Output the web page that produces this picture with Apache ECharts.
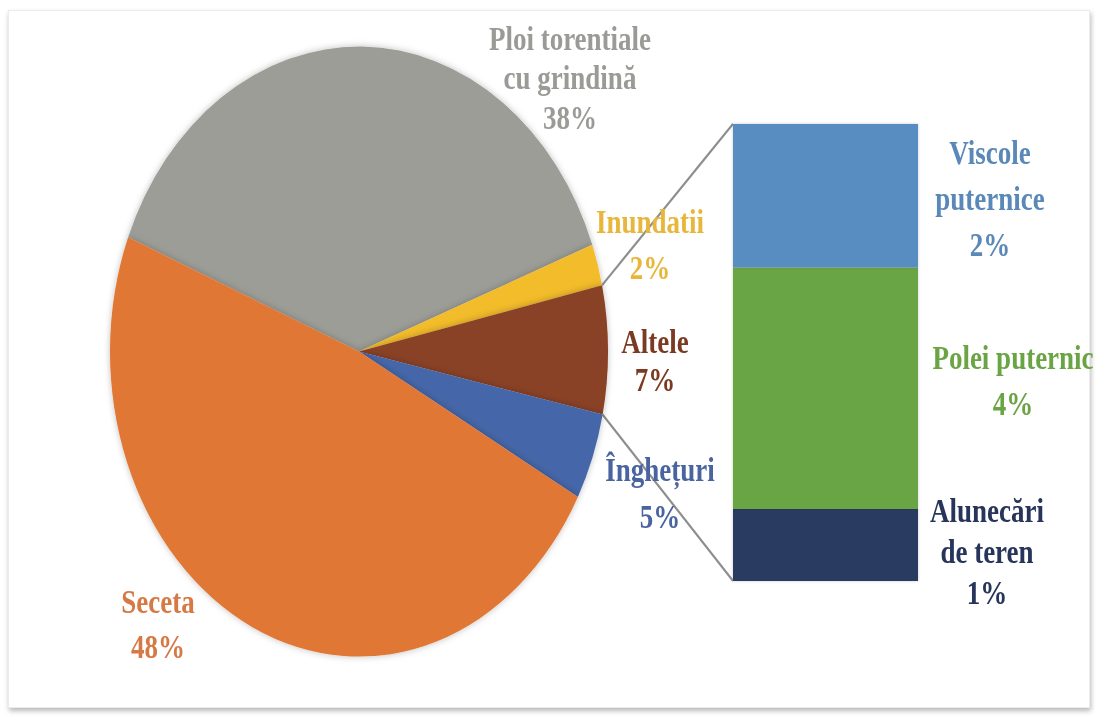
<!DOCTYPE html>
<html>
<head>
<meta charset="utf-8">
<title>Fenomene meteo</title>
<script src="https://cdn.jsdelivr.net/npm/echarts@6/dist/echarts.min.js"></script>
<style>
    html, body { margin: 0; padding: 0; background: #fff; }
    #frame {
        position: absolute; left: 8px; top: 10px; width: 1080px; height: 696px;
        border: 1px solid #ececec; box-shadow: 1px 3px 5px rgba(0, 0, 0, 0.28); background: #fff;
    }
    /* the original picture is stretched vertically, so is this one */
    #main {
        position: absolute; left: 0; top: 0; width: 1095px; height: 585px;
        transform: scaleY(1.225); transform-origin: 0 0;
    }
</style>
</head>
<body>
<div id="frame"></div>
<div id="main"></div>
<script>
    // pie
    var pieNames = ['Ploi torentiale\ncu grindină', 'Inundatii', 'Altele', 'Înghețuri', 'Seceta'];
    var pieValues = [38.2, 2.2, 6.8, 4.6, 48.2];
    // bar (detaliu "Altele"), de sus in jos
    var barNames = ['Viscole\nputernice', 'Polei puternic', 'Alunecări\nde teren'];
    var barValues = [2.2, 3.7, 1.1];

    var pieColors = ['#9d9d98', '#f3bc2c', '#8a4226', '#4566a8', '#e07734'];
    var pieLabelColors = ['#9a9a97', '#e9b63c', '#7b3a22', '#4a64a0', '#d67a45'];
    var pieLabelPos = [[570, 64], [650, 200], [655, 295], [660, 403], [158, 510]];
    var pieLineHeights = [32, 37.5, 31, 38, 37];

    var barColors = ['#588dc1', '#6ba545', '#2a3b62'];
    var barLabelColors = ['#5a88b8', '#6aa444', '#27355a'];
    var barLabelOffsets = [[72, 3], [95, -6], [69, 6]];
    var barLineHeights = [37.5, 38, 33.5];

    var font = "'Liberation Serif', 'DejaVu Serif', serif";
    var fontSize = 27;
    var cx = 359, cy = 287, r = 249, startAngle = 158;
    var gridLeft = 733, gridTop = 101.2, gridWidth = 185, gridHeight = 373;

    var barTotal = barValues.reduce(function (a, b) { return a + b; }, 0);
    var pieTotal = pieValues.reduce(function (a, b) { return a + b; }, 0);

    var myChart = echarts.init(document.getElementById('main'), null, {renderer: 'svg'});

    var series = [{
        type: 'pie',
        silent: true,
        center: [cx, cy],
        radius: r,
        startAngle: startAngle,
        clockwise: true,
        avoidLabelOverlap: false,
        itemStyle: {
            shadowBlur: 6,
            shadowColor: 'rgba(0,0,0,0.25)'
        },
        label: {
            show: true,
            position: 'outside',
            fontFamily: font,
            fontWeight: 'bold',
            fontSize: fontSize,
            align: 'center',
            formatter: function (p) {
                return p.name + '\n' + Math.round(p.value) + '%';
            }
        },
        labelLine: {show: false},
        labelLayout: function (p) {
            var pos = pieLabelPos[p.dataIndex];
            return {x: pos[0], y: pos[1], align: 'center', verticalAlign: 'middle'};
        },
        data: pieNames.map(function (n, i) {
            return {
                name: n,
                value: pieValues[i],
                itemStyle: {color: pieColors[i]},
                label: {color: pieLabelColors[i], lineHeight: pieLineHeights[i]}
            };
        })
    }];

    // stiva: de jos in sus
    [2, 1, 0].forEach(function (i) {
        series.push({
            type: 'bar',
            silent: true,
            stack: 'altele',
            barWidth: '100%',
            itemStyle: {
                color: barColors[i],
                shadowBlur: 3,
                shadowColor: 'rgba(0,0,0,0.2)'
            },
            label: {
                show: true,
                position: 'right',
                distance: 0,
                align: 'center',
                verticalAlign: 'middle',
                offset: barLabelOffsets[i],
                color: barLabelColors[i],
                fontFamily: font,
                fontWeight: 'bold',
                fontSize: fontSize,
                lineHeight: barLineHeights[i],
                formatter: barNames[i] + '\n' + Math.round(barValues[i]) + '%'
            },
            data: [barValues[i]]
        });
    });

    var option = {
        backgroundColor: 'transparent',
        animation: false,
        grid: {left: gridLeft, top: gridTop, width: gridWidth, height: gridHeight},
        xAxis: {type: 'category', data: ['Altele'], show: false},
        yAxis: {type: 'value', min: 0, max: barTotal, show: false},
        series: series
    };
    myChart.setOption(option);

    // liniile de legatura: felia "Altele" -> coloana
    var before = pieValues[0] + pieValues[1];
    var a1 = (startAngle - before / pieTotal * 360) * Math.PI / 180;
    var a2 = (startAngle - (before + pieValues[2]) / pieTotal * 360) * Math.PI / 180;
    var barTopPx = myChart.convertToPixel({gridIndex: 0}, [0, barTotal]);
    var barBottomPx = myChart.convertToPixel({gridIndex: 0}, [0, 0]);
    myChart.setOption({
        graphic: [{
            type: 'line',
            silent: true,
            shape: {x1: cx + r * Math.cos(a1), y1: cy - r * Math.sin(a1), x2: gridLeft, y2: barTopPx[1]},
            style: {stroke: '#8e8e8e', lineWidth: 2}
        }, {
            type: 'line',
            silent: true,
            shape: {x1: cx + r * Math.cos(a2), y1: cy - r * Math.sin(a2), x2: gridLeft, y2: barBottomPx[1]},
            style: {stroke: '#8e8e8e', lineWidth: 2}
        }]
    });
</script>
</body>
</html>
